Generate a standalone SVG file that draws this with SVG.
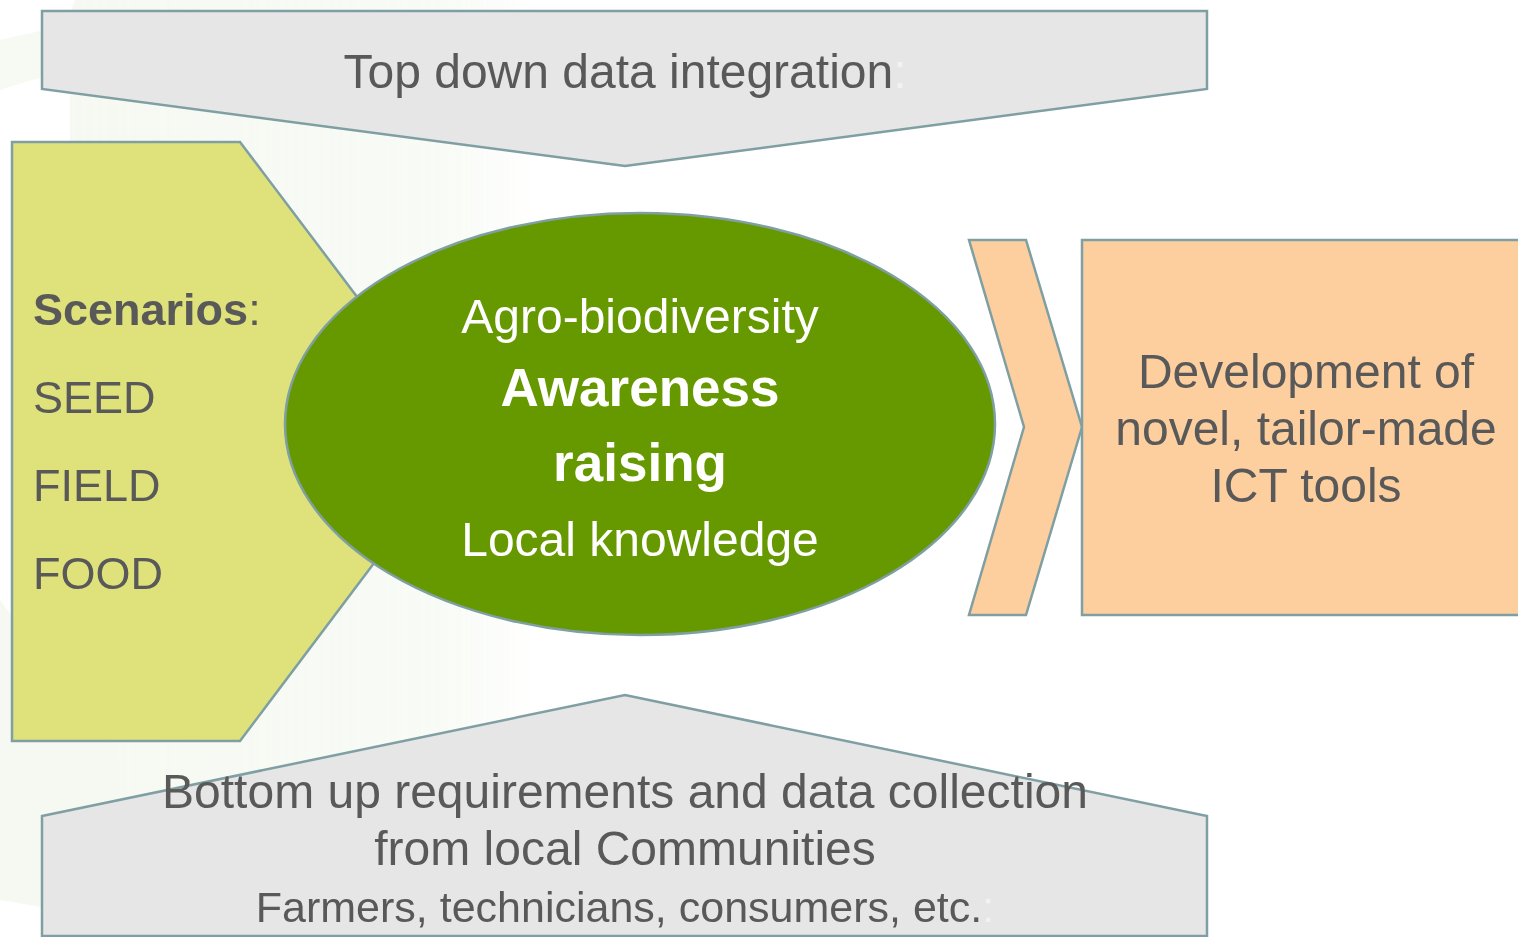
<svg xmlns="http://www.w3.org/2000/svg" width="1518" height="937" viewBox="0 0 1518 937">
  <style>
    .gray { fill: #e6e6e6; stroke: #7f9fa3; stroke-width: 2.5; }
    .t { font-family: "Liberation Sans", Arial, sans-serif; fill: #595959; }
    .w { font-family: "Liberation Sans", Arial, sans-serif; fill: #ffffff; }
  </style>
  <defs>
    <linearGradient id="fade" x1="0" y1="0" x2="1" y2="0">
      <stop offset="0" stop-color="#eef5e7" stop-opacity="1"/>
      <stop offset="0.8" stop-color="#eef5e7" stop-opacity="0.7"/>
      <stop offset="1" stop-color="#eef5e7" stop-opacity="0"/>
    </linearGradient>
  </defs>
  <rect width="1518" height="937" fill="#ffffff"/>
  <g id="background" opacity="0.55">
    <rect x="70" y="-20" width="470" height="840" rx="40" fill="url(#fade)"/>
    <path d="M0,40 C120,10 250,0 420,30 L420,60 C250,40 120,50 0,90 Z" fill="#e7f0dc" opacity="0.6"/>
    <path d="M0,600 L120,760 L120,920 L0,900 Z" fill="#eef5e7"/>
  </g>
  <g id="top-down">
    <polygon class="gray" points="42,11 1207,11 1207,89 625,166 42,89"/>
    <text class="t" x="625" y="88" font-size="48" text-anchor="middle">Top down data integration<tspan fill="#f2f2f2">:</tspan></text>
  </g>
  <g id="scenarios">
    <polygon points="12,142 240,142 466,441 240,741 12,741" fill="#dfe17a" stroke="#7f9fa3" stroke-width="2.5"/>
    <text class="t" x="33" y="325" font-size="45"><tspan font-weight="bold">Scenarios</tspan>:</text>
    <text class="t" x="33" y="413" font-size="45">SEED</text>
    <text class="t" x="33" y="501" font-size="45">FIELD</text>
    <text class="t" x="33" y="589" font-size="45">FOOD</text>
  </g>
  <g id="bottom-up">
    <polygon class="gray" points="42,816 625,695 1207,816 1207,936 42,936"/>
    <text class="t" x="625" y="808" font-size="48" text-anchor="middle">Bottom up requirements and data collection</text>
    <text class="t" x="625" y="865" font-size="48" text-anchor="middle">from local Communities</text>
    <text class="t" x="625" y="922" font-size="43" text-anchor="middle">Farmers, technicians, consumers, etc.<tspan fill="#f2f2f2">:</tspan></text>
  </g>
  <g id="awareness">
    <ellipse cx="640" cy="424" rx="355" ry="211" fill="#669900" stroke="#7f9fa3" stroke-width="2.5"/>
    <text class="w" x="640" y="333" font-size="48" text-anchor="middle">Agro-biodiversity</text>
    <text class="w" x="640" y="406" font-size="53" font-weight="bold" text-anchor="middle">Awareness</text>
    <text class="w" x="640" y="481" font-size="53" font-weight="bold" text-anchor="middle">raising</text>
    <text class="w" x="640" y="556" font-size="48" text-anchor="middle">Local knowledge</text>
  </g>
  <g id="connectors">
    <polygon points="969,240 1026,240 1082,427 1026,615 969,615 1024,427" fill="#fdcf9f" stroke="#7f9fa3" stroke-width="2.5"/>
  </g>
  <g id="ict-tools">
    <rect x="1082" y="240" width="440" height="375" fill="#fdcf9f" stroke="#7f9fa3" stroke-width="2.5"/>
    <text class="t" x="1306" y="388" font-size="48" text-anchor="middle">Development of</text>
    <text class="t" x="1306" y="445" font-size="48" text-anchor="middle">novel, tailor-made</text>
    <text class="t" x="1306" y="502" font-size="48" text-anchor="middle">ICT tools</text>
  </g>
</svg>
